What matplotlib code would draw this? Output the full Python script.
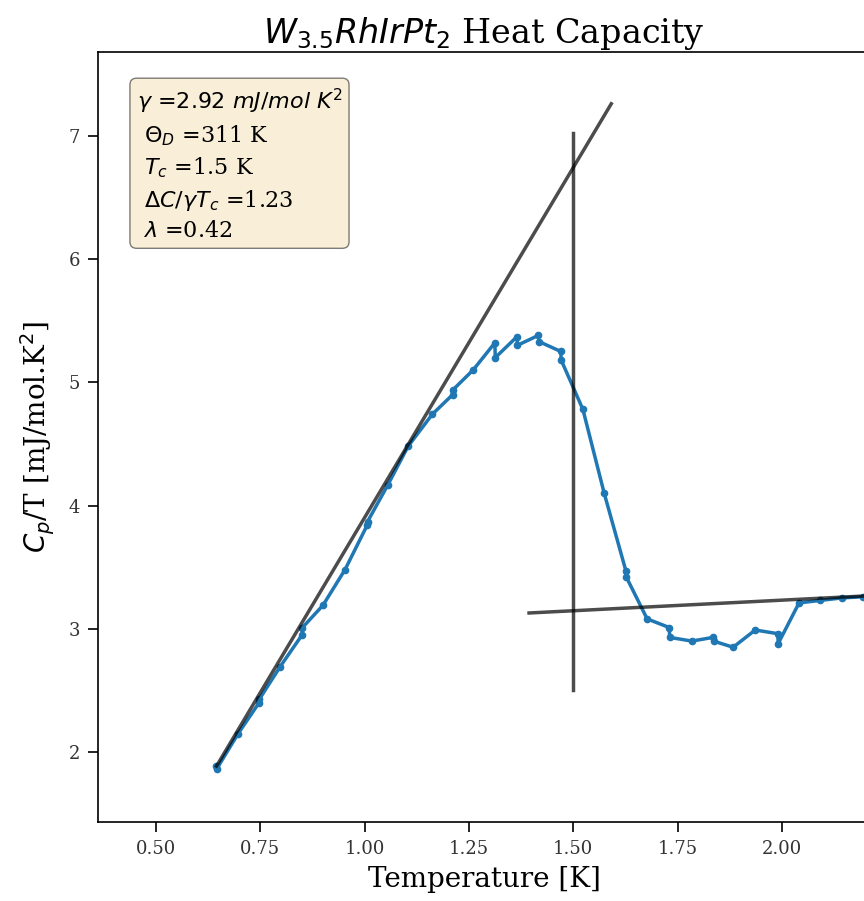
import matplotlib
matplotlib.use("Agg")
import matplotlib.pyplot as plt

plt.rcParams['font.family'] = 'DejaVu Serif'

# measured C/T vs T (pairs are repeated measurements)
temp = [0.644, 0.645, 0.697, 0.747, 0.748, 0.797, 0.850, 0.851, 0.900, 0.953,
        1.006, 1.007, 1.056, 1.104, 1.162, 1.211, 1.212, 1.260, 1.312, 1.313,
        1.365, 1.366, 1.416, 1.418, 1.470, 1.471, 1.523, 1.574, 1.626, 1.627,
        1.677, 1.730, 1.731, 1.784, 1.835, 1.836, 1.883, 1.936, 1.990, 1.991,
        2.041, 2.092, 2.143, 2.194, 2.245]
cp_t = [1.89, 1.86, 2.15, 2.40, 2.43, 2.69, 2.95, 3.01, 3.19, 3.48,
        3.84, 3.87, 4.17, 4.48, 4.74, 4.90, 4.94, 5.10, 5.32, 5.20,
        5.37, 5.30, 5.38, 5.33, 5.25, 5.18, 4.78, 4.10, 3.47, 3.42,
        3.08, 3.01, 2.93, 2.90, 2.93, 2.90, 2.85, 2.99, 2.96, 2.88,
        3.21, 3.23, 3.25, 3.26, 3.28]

# entropy-balance construction lines
sc_line_t = [0.645, 1.591]
sc_line_c = [1.886, 7.26]
norm_line_t = [1.394, 2.25]
norm_line_c = [3.128, 3.275]
tc = 1.5
tc_line_c = [2.50, 7.02]

fig = plt.figure(figsize=(8.64, 9.01), dpi=100)
ax = fig.add_axes([98/864, 79/901, 772/864, 770/901])

ax.plot(temp, cp_t, '.-', color='#1f77b4', lw=2.5, ms=9)
ax.plot(sc_line_t, sc_line_c, 'k-', lw=2.5, alpha=0.7)
ax.plot(norm_line_t, norm_line_c, 'k-', lw=2.5, alpha=0.7)
ax.plot([tc, tc], tc_line_c, 'k-', lw=2.5, alpha=0.7)

ax.set_xlim(0.361, 2.211)
ax.set_ylim(1.432, 7.68)
ax.set_xticks([0.5, 0.75, 1.0, 1.25, 1.5, 1.75, 2.0])
ax.tick_params(labelsize=13, length=7, width=1.2, pad=6, labelcolor='#333333')
for sp in ax.spines.values():
    sp.set_linewidth(1.2)

ax.set_xlabel('Temperature [K]', fontsize=20, labelpad=6)
ax.set_ylabel(r'$C_p$/T [mJ/mol.K$^2$]', fontsize=20, labelpad=8)
ax.set_title(r'$W_{3.5}RhIrPt_2$ Heat Capacity', fontsize=24)

textstr = '\n'.join([
    r'$\gamma$ =$2.92$ $mJ/mol$ $K^2$',
    r' $\Theta_D$ =311 K',
    r' $T_c$ =1.5 K',
    r' $\Delta C/\gamma T_c$ =1.23',
    r' $\lambda$ =0.42',
])
props = dict(boxstyle='round', facecolor='wheat', alpha=0.5)
ax.text(0.05, 0.955, textstr, transform=ax.transAxes, fontsize=16,
        verticalalignment='top', linespacing=1.4, bbox=props)

fig.savefig('out.png', dpi=100)
